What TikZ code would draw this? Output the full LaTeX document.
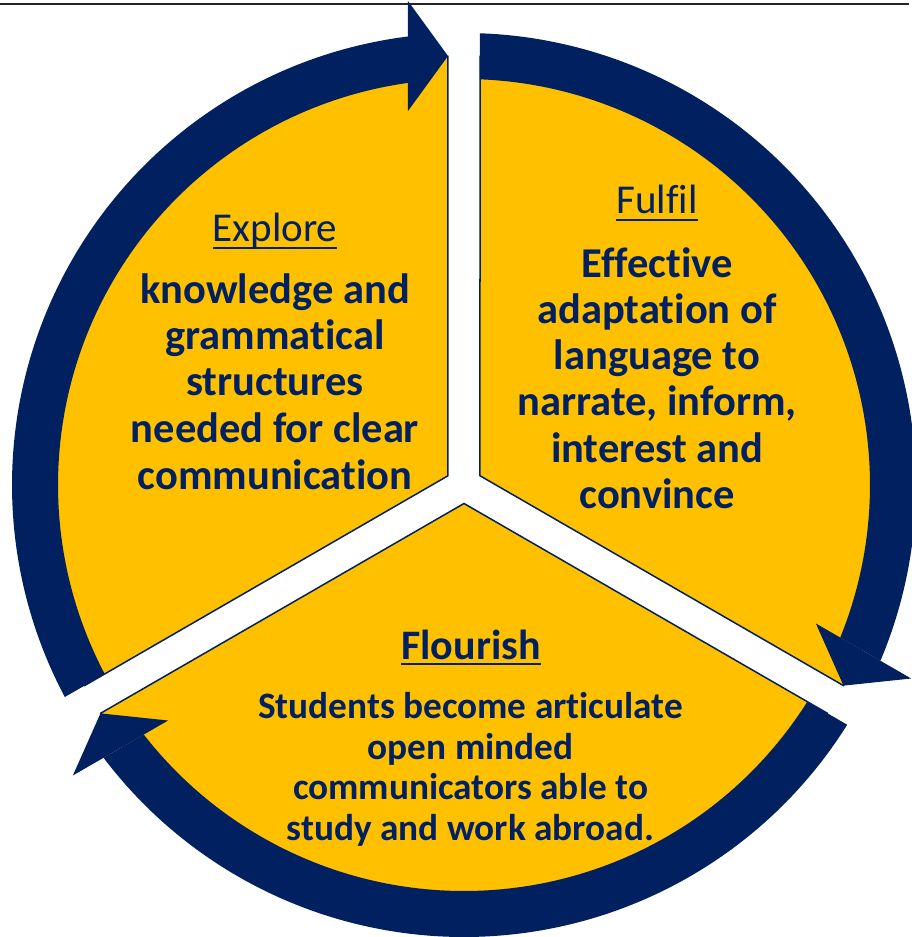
\documentclass[tikz,border=0pt]{standalone}
\usepackage{fontspec}
\setmainfont{Carlito}[Ligatures={NoCommon,NoContextual,NoRequired},Contextuals={NoAlternate}]
\usetikzlibrary{calc}
\definecolor{navy}{HTML}{002060}
\definecolor{gold}{HTML}{FFC000}
\begin{document}
\begin{tikzpicture}[x=1pt,y=1pt,
  sector/.style={fill=gold, draw=navy, line width=1.5pt, line join=miter},
  band/.style={fill=navy, draw=none},
  ttl/.style={anchor=base, inner sep=0pt, text=navy, font=\fontsize{41}{46}\selectfont},
  body/.style={anchor=base, inner sep=0pt, text=navy, font=\fontsize{42.5}{46}\selectfont\bfseries},
  small/.style={anchor=base, inner sep=0pt, text=navy, font=\fontsize{37.3}{41}\selectfont\bfseries},
  ul/.style={navy, line width=2.2pt}]
\clip (-464,-452) rectangle (448,485);
\draw[black!85, line width=1.8pt] (-464,481) -- (445,481);
\def\h{16}\def\Rp{429}\def\Ra{406}\def\Rb{452}\def\hb{56}
\pgfmathsetmacro\pR{30+asin(\h/\Rp)}
\pgfmathsetmacro\pL{150-asin(\h/\Rp)}
\pgfmathsetmacro\hO{30+asin(\hb/\Rb)}
\pgfmathsetmacro\hI{30+asin(\hb/\Ra)}
\pgfmathsetmacro\tO{150-asin(\h/\Rb)}
\pgfmathsetmacro\tI{150-asin(\h/\Ra)}
\pgfmathsetmacro\cy{\h/sin(60)}
% gold sectors
\foreach \r in {60,-60,180}{
  \begin{scope}[rotate=\r]
    \path[sector] (0,\cy) -- (\pR:\Rp pt) arc[start angle=\pR, end angle=\pL, radius=\Rp pt] -- cycle;
  \end{scope}
}
% navy curved arrows
\foreach \r in {60,-60,180}{
  \begin{scope}[rotate=\r]
    \path[band] (\hO:\Rb pt) arc[start angle=\hO, end angle=\tO, radius=\Rb pt]
      -- (\tI:\Ra pt) arc[start angle=\tI, end angle=\hI, radius=\Ra pt] -- cycle;
    \path[band] ($(30:374pt)+(120:\hb pt)$) -- ($(30:429pt)+(120:\h pt)$)
      -- ($(30:484pt)+(120:\hb pt)$) -- cycle;
  \end{scope}
}
% Explore
\node[ttl] (exT) at (-189,243) {Explore};
\draw[ul] ([yshift=-6pt]exT.base west) -- ([yshift=-6pt]exT.base east);
\foreach \t/\y [count=\i] in {knowledge and/181, grammatical/135, structures/89, needed for clear/42, communication/-4}
  \node[body] (ex\i) at (-189,\y) {\t};
% Fulfil
\node[ttl] (fuT) at (193,271) {Fulfil};
\draw[ul, line width=1.8pt] ([yshift=-6pt]fuT.base west) -- ([yshift=-6pt]fuT.base east);
\foreach \t/\y [count=\i] in {Effective/207, adaptation of/161, language to/115, {narrate, inform,}/69, interest and/23, convince/-23}
  \node[body] (fu\i) at (193,\y) {\t};
% Flourish
\node[body, font=\fontsize{42}{46}\selectfont\bfseries] (flT) at (7,-174) {Flourish};
\draw[ul, line width=2.8pt] ([yshift=-5pt]flT.base west) -- ([yshift=-5pt]flT.base east);
\foreach \t/\y [count=\i] in {Students become articulate/-233, open minded/-274, communicators able to/-314, study and work abroad./-355}
  \node[small] (fl\i) at (6.5,\y) {\t};
\end{tikzpicture}
\end{document}
